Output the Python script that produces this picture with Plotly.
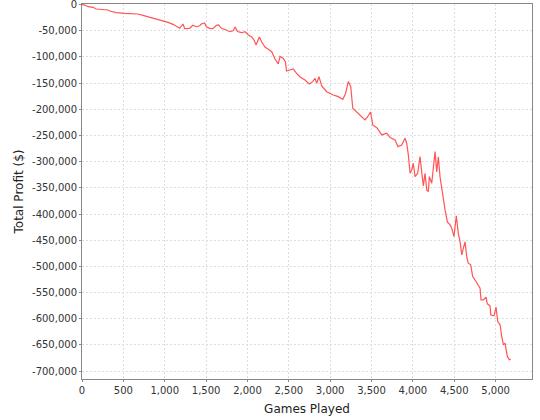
import plotly.graph_objects as go

games = [0, 33, 73, 133, 173, 254, 314, 335, 415, 516, 596, 677, 737, 798, 858, 919, 979, 1040,
         1100, 1161, 1181, 1221, 1242, 1302, 1342, 1382, 1423, 1442, 1483, 1503, 1544, 1584, 1624,
         1653, 1684, 1745, 1786, 1826, 1853, 1878, 1931, 1971, 2011, 2052, 2079, 2104, 2144, 2173,
         2212, 2252, 2293, 2333, 2373, 2394, 2434, 2460, 2472, 2515, 2555, 2587, 2636, 2696, 2748,
         2789, 2817, 2838, 2865, 2898, 2958, 3038, 3099, 3152, 3186, 3220, 3249, 3273, 3319, 3382,
         3421, 3449, 3488, 3515, 3567, 3623, 3684, 3724, 3784, 3820, 3865, 3905, 3925, 3945, 3966,
         3986, 4005, 4026, 4058, 4086, 4107, 4126, 4147, 4167, 4187, 4199, 4228, 4247, 4268, 4288,
         4308, 4328, 4349, 4368, 4389, 4417, 4449, 4470, 4497, 4525, 4550, 4570, 4591, 4610, 4631,
         4651, 4670, 4699, 4723, 4763, 4791, 4812, 4824, 4852, 4884, 4900, 4933, 4941, 4981, 5005,
         5026, 5054, 5074, 5094, 5114, 5126, 5142, 5166, 5183]

profit = [0, -1000, -4200, -5300, -8600, -9200, -10500, -12400, -15600, -16800, -16800, -18100,
          -20600, -23300, -25800, -27700, -30900, -34000, -37800, -42400, -45400, -37200, -46200,
          -45400, -39700, -42400, -40500, -37200, -35300, -42400, -45400, -46200, -39700, -39100,
          -45400, -48700, -51900, -50000, -42900, -51500, -53800, -51900, -58200, -62000, -67700,
          -77300, -62000, -71600, -81100, -85500, -90100, -104000, -113500, -99200, -103000,
          -109700, -126900, -125000, -123100, -130100, -138300, -144100, -151700, -147300, -140800,
          -150400, -137800, -155500, -166400, -172700, -175900, -181300, -169800, -146900, -156800,
          -198100, -205100, -213700, -220400, -215200, -205100, -229900, -235600, -249000, -245700,
          -253800, -258500, -271300, -268100, -255300, -264800, -287200, -322100, -315800, -303000,
          -328600, -322100, -290400, -325300, -346300, -322100, -353900, -357200, -328600, -341200,
          -315800, -280900, -319600, -291000, -328600, -350100, -376800, -392100, -415000, -420700,
          -427000, -443000, -403500, -437900, -452600, -477900, -465200, -453100, -481800, -493800,
          -497000, -519400, -528900, -535200, -541500, -563800, -563800, -558700, -571400, -575300,
          -592400, -594300, -577700, -605200, -611500, -633800, -649700, -646400, -662500, -671900,
          -678300, -677000]

x_ticks = list(range(0, 5001, 500))
y_ticks = list(range(0, -700001, -50000))
x_labels = [f"{v:,}" for v in x_ticks]
y_labels = [f"{v:,}" for v in y_ticks]

fig = go.Figure()
fig.add_trace(go.Scatter(x=games, y=profit, mode="lines",
                         line=dict(color="#FF5555", width=1.2), showlegend=False))

font = "DejaVu Sans, Liberation Sans, sans-serif"
axis_common = dict(
    showgrid=True, gridcolor="#DDDDDD", griddash="2px,2px", gridwidth=1,
    showline=True, linecolor="#888888", linewidth=1, mirror=True,
    ticks="outside", ticklen=2, tickcolor="#888888",
    zeroline=False, automargin=False, ticklabeloverflow="allow",
    tickfont=dict(family=font, size=10, color="#333333"),
)

fig.update_layout(
    width=540, height=420,
    margin=dict(l=82, r=8, t=4, b=41, pad=0),
    paper_bgcolor="white", plot_bgcolor="white",
    xaxis=dict(range=[0, 5440], tickvals=x_ticks, ticktext=x_labels,
               title=dict(text="Games Played", standoff=9,
                          font=dict(family=font, size=12, color="#222222")),
               **axis_common),
    yaxis=dict(range=[-715000, 1000], tickvals=y_ticks, ticktext=y_labels,
               title=dict(text="Total Profit ($)", standoff=5,
                          font=dict(family=font, size=12, color="#222222")),
               **axis_common),
)

fig.write_html("out.html", config={"displayModeBar": False},
               post_script="document.body.style.margin='0';document.body.style.padding='0';")
